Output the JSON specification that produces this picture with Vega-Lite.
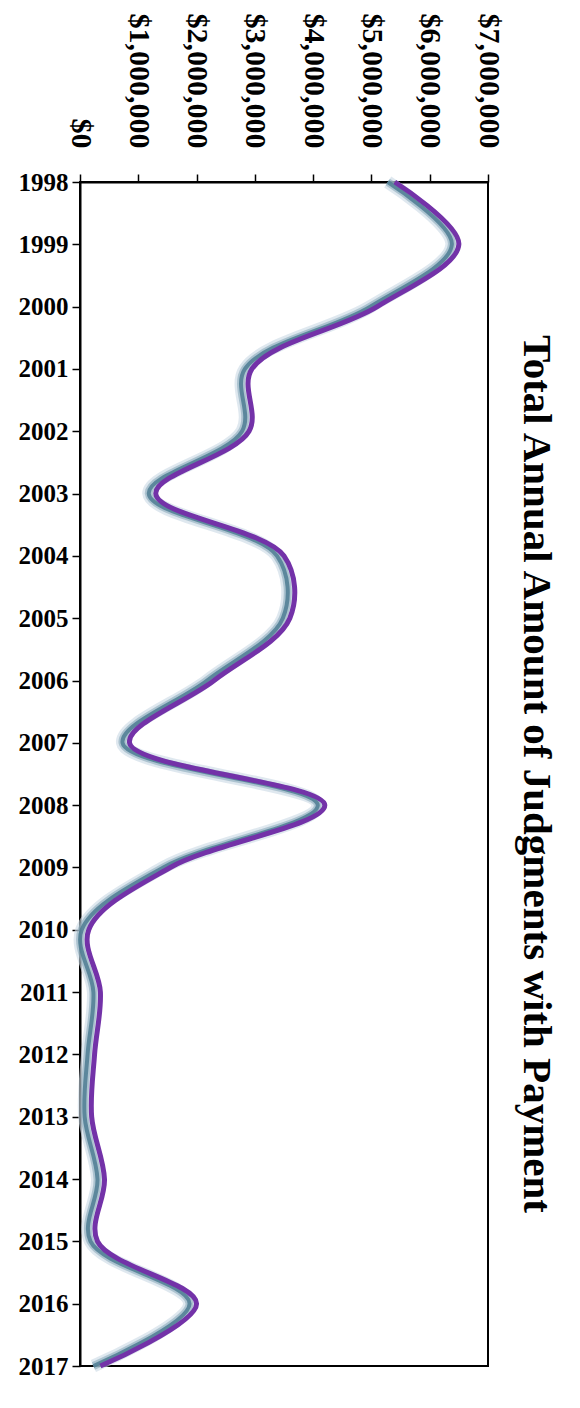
{
  "$schema": "https://vega.github.io/schema/vega-lite/v6.json",
  "width": 408,
  "height": 1184,
  "padding": {"top": 13, "left": 18, "right": 5, "bottom": 40},
  "background": "white",
  "title": {
    "text": "Total Annual Amount of Judgments with Payment",
    "orient": "right",
    "angle": 90,
    "anchor": "middle",
    "font": "Liberation Serif",
    "fontSize": 41,
    "fontWeight": "bold",
    "color": "black",
    "offset": 12
  },
  "config": {
    "view": {"stroke": "black", "strokeWidth": 2},
    "axis": {
      "labelFont": "Liberation Serif",
      "labelFontWeight": "bold",
      "labelColor": "black",
      "domainColor": "black",
      "domainWidth": 2,
      "tickColor": "black",
      "tickWidth": 1.5,
      "tickSize": 8,
      "grid": false,
      "title": null
    }
  },
  "data": {
    "values": [
      {"year": "1998", "amount": 5400000},
      {"year": "1999", "amount": 6500000},
      {"year": "2000", "amount": 5100000},
      {"year": "2001", "amount": 2950000},
      {"year": "2002", "amount": 2900000},
      {"year": "2003", "amount": 1300000},
      {"year": "2004", "amount": 3500000},
      {"year": "2005", "amount": 3600000},
      {"year": "2006", "amount": 2300000},
      {"year": "2007", "amount": 850000},
      {"year": "2008", "amount": 4200000},
      {"year": "2009", "amount": 1550000},
      {"year": "2010", "amount": 150000},
      {"year": "2011", "amount": 350000},
      {"year": "2012", "amount": 250000},
      {"year": "2013", "amount": 200000},
      {"year": "2014", "amount": 420000},
      {"year": "2015", "amount": 300000},
      {"year": "2016", "amount": 2000000},
      {"year": "2017", "amount": 350000}
    ]
  },
  "encoding": {
    "y": {
      "field": "year",
      "type": "ordinal",
      "scale": {"type": "point", "padding": 0},
      "axis": {"labelFontSize": 25, "labelPadding": 4, "labelAngle": 0}
    },
    "x": {
      "field": "amount",
      "type": "quantitative",
      "scale": {"domain": [0, 7000000], "nice": false},
      "axis": {
        "orient": "top",
        "values": [0, 1000000, 2000000, 3000000, 4000000, 5000000, 6000000, 7000000],
        "format": "$,.0f",
        "labelAngle": 90,
        "labelAlign": "right",
        "labelBaseline": "middle",
        "labelFontSize": 30,
        "labelPadding": 26
      }
    }
  },
  "layer": [
    {"mark": {"type": "line", "interpolate": "catmull-rom", "color": "#c9d9e4", "strokeWidth": 13, "opacity": 0.6, "xOffset": -7}},
    {"mark": {"type": "line", "interpolate": "catmull-rom", "color": "#8aaabb", "strokeWidth": 8, "opacity": 0.6, "xOffset": -7}},
    {"mark": {"type": "line", "interpolate": "catmull-rom", "color": "#4d7c93", "strokeWidth": 4, "opacity": 0.85, "xOffset": -7}},
    {"mark": {"type": "line", "interpolate": "catmull-rom", "color": "#7332a8", "strokeWidth": 5}}
  ]
}
